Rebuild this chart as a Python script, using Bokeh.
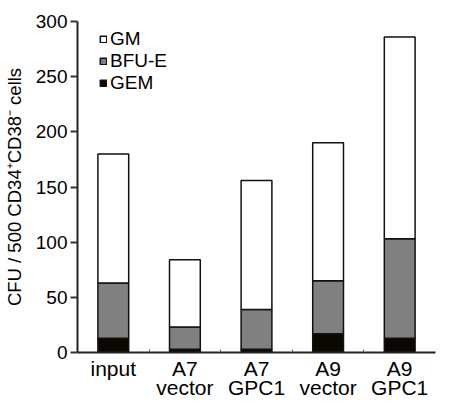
from bokeh.plotting import figure
from bokeh.models import Range1d, FixedTicker, Legend, LegendItem
from bokeh.embed import file_html
from bokeh.resources import INLINE

categories = ["input", "A7\nvector", "A7\nGPC1", "A9\nvector", "A9\nGPC1"]
gem = [13, 3, 3, 17, 13]
bfu_e = [50, 20, 36, 48, 90]
gm = [117, 61, 117, 125, 183]

x = [i + 0.5 for i in range(len(categories))]
base1 = gem
base2 = [a + b for a, b in zip(gem, bfu_e)]
top3 = [a + b for a, b in zip(base2, gm)]

FONT = "Liberation Sans"

p = figure(width=436, height=402, output_backend="svg", toolbar_location=None,
           x_range=Range1d(0, len(categories)), y_range=Range1d(0, 300),
           min_border_left=72, min_border_right=1, min_border_top=21, min_border_bottom=42)

w = 0.43
r_gem = p.vbar(x=x, bottom=0, top=base1, width=w, fill_color="#0a0800", line_color="#111111", line_width=1.5)
r_bfu = p.vbar(x=x, bottom=base1, top=base2, width=w, fill_color="#808080", line_color="#111111", line_width=1.5)
r_gm = p.vbar(x=x, bottom=base2, top=top3, width=w, fill_color="white", line_color="#111111", line_width=1.5)

p.xgrid.visible = False
p.ygrid.visible = False
p.outline_line_color = None

xa = p.xaxis[0]
xa.ticker = FixedTicker(ticks=x, minor_ticks=[i for i in range(1, len(categories))])
xa.major_label_overrides = {xi: c for xi, c in zip(x, categories)}
xa.major_tick_in = 0
xa.major_tick_out = 0
xa.minor_tick_in = 3
xa.minor_tick_out = 0
xa.minor_tick_line_color = "#555555"
xa.axis_line_width = 2
xa.axis_line_color = "#222222"
xa.major_label_text_font = FONT
xa.major_label_text_font_size = "21px"
xa.major_label_text_line_height = 0.86
xa.major_label_text_color = "black"
xa.major_label_standoff = 4

ya = p.yaxis[0]
ya.ticker = FixedTicker(ticks=[0, 50, 100, 150, 200, 250, 300])
ya.minor_tick_line_color = None
ya.major_tick_in = 0
ya.major_tick_out = 7
ya.major_tick_line_width = 2
ya.major_tick_line_color = "#333333"
ya.axis_line_width = 2
ya.axis_line_color = "#222222"
ya.major_label_text_font = FONT
ya.major_label_text_font_size = "19px"
ya.major_label_text_color = "black"
ya.major_label_standoff = 3
ya.axis_label = "CFU / 500 CD34\u207aCD38\u207b cells"
ya.axis_label_text_font = FONT
ya.axis_label_text_font_size = "18.5px"
ya.axis_label_text_font_style = "normal"
ya.axis_label_text_color = "black"
ya.axis_label_standoff = 8

legend = Legend(items=[
    LegendItem(label="GM", renderers=[r_gm]),
    LegendItem(label="BFU-E", renderers=[r_bfu]),
    LegendItem(label="GEM", renderers=[r_gem]),
], location=(22, 258), orientation="vertical")
legend.glyph_width = 8
legend.glyph_height = 8
legend.label_height = 22
legend.spacing = 0
legend.padding = 0
legend.margin = 0
legend.label_standoff = 3
legend.label_text_font = FONT
legend.label_text_font_size = "19px"
legend.label_text_color = "black"
legend.border_line_color = None
legend.background_fill_alpha = 0
p.add_layout(legend, "center")

open("out.html", "w").write(file_html(p, INLINE))
